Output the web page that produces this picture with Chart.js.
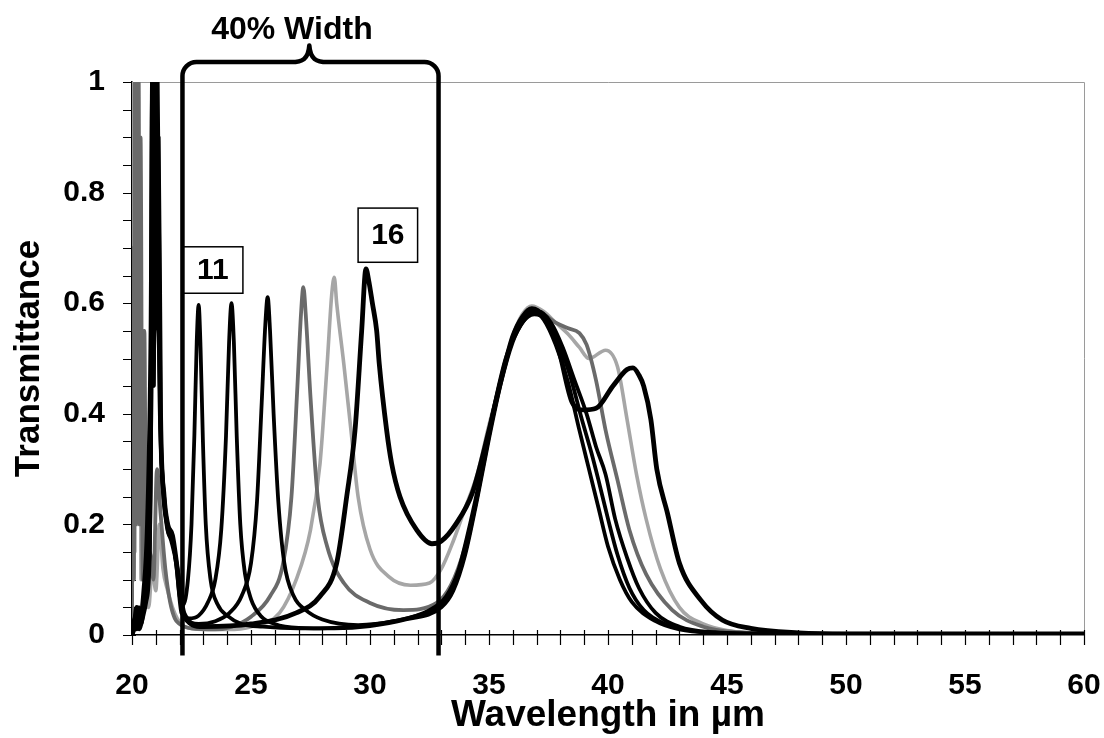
<!DOCTYPE html>
<html>
<head>
<meta charset="utf-8">
<script src="https://cdn.jsdelivr.net/npm/chart.js@4/dist/chart.umd.min.js"></script>
<style>
  html, body { margin: 0; padding: 0; background: #fff; }
  #wrap { width: 1104px; height: 738px; }
</style>
</head>
<body>
<div id="wrap"><canvas id="c" width="1104" height="738"></canvas></div>
<script>
// ---------------- DATA ----------------
const seriesNames = ['11', '12', '13', '16', '14', '15'];

const wl11 = [20.0, 20.1, 20.2, 20.3, 20.4, 20.55, 20.7, 20.8, 20.86, 20.92, 20.97, 21.02, 21.1, 21.25, 21.45, 21.65, 21.85, 22.0, 22.15, 22.35, 22.5, 22.62, 22.72, 22.8, 22.88, 22.98, 23.1, 23.3, 23.6, 24.0, 24.6, 25.5, 27, 28.5, 30, 31, 32, 33, 33.5, 34, 34.5, 35, 35.5, 36, 36.4, 36.9, 37.3, 37.8, 38.3, 38.8, 39.2, 39.6, 40.0, 40.5, 41, 42, 43, 44.5, 46, 50, 60];
const t11  = [0.0, 0.03, 0.01, 0.05, 0.02, 0.08, 0.12, 0.35, 1.0, 0.45, 1.0, 0.6, 0.55, 0.3, 0.2, 0.17, 0.13, 0.07, 0.055, 0.1, 0.2, 0.36, 0.53, 0.597, 0.52, 0.35, 0.2, 0.1, 0.055, 0.035, 0.02, 0.015, 0.012, 0.013, 0.018, 0.025, 0.035, 0.055, 0.085, 0.15, 0.25, 0.36, 0.46, 0.535, 0.57, 0.585, 0.57, 0.525, 0.46, 0.37, 0.3, 0.23, 0.16, 0.1, 0.06, 0.025, 0.01, 0.004, 0.003, 0.002, 0.002];

const wl12 = [20.0, 20.1, 20.2, 20.3, 20.45, 20.6, 20.75, 20.85, 20.92, 20.98, 21.05, 21.15, 21.3, 21.5, 21.7, 21.9, 22.1, 22.4, 22.8, 23.2, 23.5, 23.75, 23.95, 24.08, 24.18, 24.28, 24.4, 24.55, 24.75, 25.0, 25.4, 26, 27, 28.5, 30, 31.5, 33, 33.5, 34, 34.5, 35, 35.5, 36, 36.4, 36.9, 37.4, 37.9, 38.4, 38.9, 39.3, 39.6, 40.0, 40.4, 40.9, 41.5, 42.5, 43.5, 45, 47, 60];
const t12  = [0.0, 0.02, 0.04, 0.01, 0.03, 0.06, 0.15, 0.6, 1.0, 0.6, 0.95, 0.45, 0.28, 0.19, 0.17, 0.12, 0.05, 0.03, 0.035, 0.06, 0.1, 0.19, 0.36, 0.53, 0.6, 0.53, 0.36, 0.2, 0.11, 0.065, 0.035, 0.02, 0.013, 0.012, 0.016, 0.028, 0.05, 0.08, 0.145, 0.245, 0.355, 0.455, 0.53, 0.565, 0.58, 0.57, 0.53, 0.47, 0.39, 0.33, 0.28, 0.21, 0.145, 0.085, 0.045, 0.018, 0.008, 0.003, 0.002, 0.002];

const wl13 = [20.0, 20.1, 20.2, 20.35, 20.5, 20.65, 20.78, 20.84, 20.9, 20.96, 21.02, 21.08, 21.2, 21.35, 21.55, 21.75, 21.95, 22.2, 22.8, 23.5, 24.1, 24.6, 25.0, 25.25, 25.45, 25.6, 25.7, 25.8, 25.95, 26.15, 26.4, 26.8, 27.3, 28, 29.5, 31, 32.5, 33.2, 33.7, 34.2, 34.7, 35.2, 35.7, 36.2, 36.7, 37.1, 37.6, 38.1, 38.6, 39.1, 39.5, 39.9, 40.3, 40.8, 41.3, 42, 43, 44.5, 47, 60];
const t13  = [0.0, 0.01, 0.03, 0.02, 0.05, 0.1, 0.3, 1.0, 0.5, 1.0, 0.7, 1.0, 0.4, 0.25, 0.19, 0.16, 0.11, 0.04, 0.02, 0.025, 0.04, 0.07, 0.13, 0.24, 0.42, 0.56, 0.611, 0.55, 0.4, 0.24, 0.13, 0.07, 0.045, 0.028, 0.018, 0.025, 0.045, 0.07, 0.115, 0.2, 0.3, 0.41, 0.5, 0.55, 0.58, 0.585, 0.565, 0.52, 0.46, 0.4, 0.34, 0.29, 0.21, 0.14, 0.085, 0.04, 0.015, 0.005, 0.002, 0.002];

const wl14 = [20.0, 20.04, 20.08, 20.12, 20.16, 20.2, 20.24, 20.28, 20.32, 20.36, 20.45, 20.52, 20.6, 20.75, 20.9, 21.05, 21.2, 21.4, 21.6, 21.8, 22.0, 22.5, 23.5, 24.2, 25.0, 25.8, 26.35, 26.7, 26.95, 27.1, 27.2, 27.3, 27.5, 27.8, 28.2, 28.9, 30.0, 31.4, 32.8, 33.4, 34, 34.5, 35, 35.5, 36, 36.4, 36.8, 37.3, 37.8, 38.3, 38.8, 39.1, 39.5, 39.9, 40.4, 40.9, 41.6, 42.7, 44, 45.5, 48, 60];
const t14  = [0.0, 0.7, 0.1, 1.0, 0.2, 1.0, 0.3, 1.0, 0.2, 0.9, 0.1, 0.55, 0.08, 0.15, 0.1, 0.3, 0.22, 0.12, 0.06, 0.03, 0.02, 0.012, 0.01, 0.015, 0.033, 0.07, 0.13, 0.25, 0.45, 0.58, 0.629, 0.58, 0.43, 0.25, 0.16, 0.094, 0.058, 0.045, 0.058, 0.09, 0.16, 0.25, 0.37, 0.46, 0.54, 0.575, 0.59, 0.58, 0.565, 0.555, 0.546, 0.525, 0.46, 0.37, 0.28, 0.19, 0.11, 0.045, 0.015, 0.005, 0.002, 0.002];

const wl15 = [20.0, 20.03, 20.06, 20.09, 20.12, 20.15, 20.18, 20.21, 20.24, 20.27, 20.3, 20.33, 20.38, 20.45, 20.5, 20.56, 20.7, 20.85, 21.0, 21.15, 21.3, 21.5, 21.7, 21.9, 22.2, 23, 24, 25, 26.2, 26.9, 27.5, 27.9, 28.2, 28.4, 28.5, 28.6, 28.9, 29.2, 29.5, 30.0, 30.8, 31.7, 32.5, 33, 33.5, 34, 34.5, 35, 35.5, 36, 36.4, 36.8, 37.3, 37.8, 38.3, 38.8, 39.2, 39.9, 40.4, 40.8, 41.2, 41.6, 42.2, 43.0, 44, 45, 47, 60];
const t15  = [0.0, 1.0, 0.2, 1.0, 0.15, 1.0, 0.3, 1.0, 0.2, 1.0, 0.25, 0.85, 0.1, 0.3, 0.55, 0.1, 0.05, 0.12, 0.08, 0.2, 0.12, 0.08, 0.05, 0.03, 0.015, 0.01, 0.01, 0.015, 0.04, 0.1, 0.19, 0.31, 0.49, 0.62, 0.647, 0.6, 0.49, 0.37, 0.25, 0.155, 0.105, 0.09, 0.094, 0.12, 0.17, 0.23, 0.29, 0.38, 0.46, 0.54, 0.58, 0.595, 0.585, 0.565, 0.545, 0.52, 0.50, 0.515, 0.485, 0.39, 0.29, 0.21, 0.12, 0.05, 0.02, 0.008, 0.003, 0.002];

const wl16 = [20.0, 20.1, 20.2, 20.35, 20.5, 20.65, 20.8, 20.87, 20.93, 20.98, 21.03, 21.1, 21.2, 21.35, 21.5, 21.7, 21.9, 22.1, 23, 25, 26.9, 27.9, 28.6, 29.02, 29.37, 29.65, 29.83, 29.95, 30.1, 30.28, 30.39, 30.7, 30.91, 31.26, 31.96, 32.6, 33.0, 33.6, 34.3, 35, 35.5, 36, 36.4, 36.8, 37.3, 37.9, 38.5, 38.95, 39.5, 40.2, 40.8, 41.05, 41.3, 41.5, 41.8, 42.05, 42.5, 43.0, 43.9, 44.8, 46, 48, 50, 60];
const t16  = [0.0, 0.02, 0.05, 0.03, 0.08, 0.2, 0.55, 1.0, 0.6, 1.0, 0.75, 0.9, 0.4, 0.25, 0.2, 0.18, 0.12, 0.04, 0.015, 0.02, 0.04, 0.07, 0.13, 0.25, 0.37, 0.55, 0.662, 0.64, 0.6, 0.55, 0.49, 0.37, 0.31, 0.25, 0.19, 0.165, 0.17, 0.2, 0.257, 0.37, 0.46, 0.54, 0.575, 0.59, 0.575, 0.52, 0.42, 0.407, 0.41, 0.45, 0.48, 0.483, 0.47, 0.45, 0.39, 0.30, 0.22, 0.13, 0.063, 0.027, 0.012, 0.004, 0.002, 0.002];

const xTickLabels = ['20', '25', '30', '35', '40', '45', '50', '55', '60'];
const yTickLabels = ['0', '0.2', '0.4', '0.6', '0.8', '1'];

// ---------------- CHART ----------------
const FONT = "'Liberation Sans', Arial, sans-serif";

function pts(xs, ys) { return xs.map((v, i) => ({ x: v, y: ys[i] })); }

const seriesData = { '11': [wl11, t11], '12': [wl12, t12], '13': [wl13, t13], '14': [wl14, t14], '15': [wl15, t15], '16': [wl16, t16] };
const seriesStyle = {
  '11': { color: '#000000', width: 3.8 },
  '12': { color: '#000000', width: 3.8 },
  '13': { color: '#000000', width: 3.8 },
  '16': { color: '#000000', width: 4.8 },
  '14': { color: '#6a6a6a', width: 3.8 },
  '15': { color: '#a6a6a6', width: 3.6 }
};

const datasets = seriesNames.map(n => ({
  label: n,
  data: pts(seriesData[n][0], seriesData[n][1]),
  borderColor: seriesStyle[n].color,
  borderWidth: seriesStyle[n].width,
  pointRadius: 0,
  fill: false,
  cubicInterpolationMode: 'monotone',
  borderJoinStyle: 'round',
  borderCapStyle: 'round'
}));

// frame (top/right thin gray border) + crossing tick marks
const framePlugin = {
  id: 'frame',
  beforeDatasetsDraw(chart) {
    const { ctx, chartArea: a, scales: { x, y } } = chart;
    ctx.save();
    ctx.strokeStyle = '#9a9a9a';
    ctx.lineWidth = 1;
    ctx.beginPath();
    ctx.moveTo(a.left, a.top + 0.5); ctx.lineTo(a.right + 0.5, a.top + 0.5); ctx.lineTo(a.right + 0.5, a.bottom);
    ctx.stroke();
    ctx.strokeStyle = '#000';
    ctx.lineWidth = 1.2;
    ctx.beginPath();
    for (let v = 20; v <= 60; v++) {
      const px = Math.round(x.getPixelForValue(v)) + 0.5;
      ctx.moveTo(px, a.bottom - 5); ctx.lineTo(px, a.bottom + 10);
    }
    for (let k = 0; k <= 20; k++) {
      const py = Math.round(y.getPixelForValue(k * 0.05)) + 0.5;
      ctx.moveTo(a.left - 9, py); ctx.lineTo(a.left + 4, py);
    }
    ctx.stroke();
    ctx.restore();
  }
};

// bracket "40% Width" and the boxed labels 11 / 16
const BRACKET = { left: 22.12, right: 32.88, mid: 27.45, top: 1.036, tip: 1.066, bottom: -0.037 };
const BRACKET_TEXT = { x: 26.72, y: 1.094, text: '40% Width' };
const BOXES = [
  { text: '11', x0: 22.14, x1: 24.66, y0: 0.618, y1: 0.702 },
  { text: '16', x0: 29.5, x1: 32.0, y0: 0.674, y1: 0.772 }
];

const annotPlugin = {
  id: 'annot',
  afterDatasetsDraw(chart) {
    const { ctx, scales: { x, y } } = chart;
    ctx.save();
    BOXES.forEach(b => {
      const l = x.getPixelForValue(b.x0), r = x.getPixelForValue(b.x1);
      const t = y.getPixelForValue(b.y1), bt = y.getPixelForValue(b.y0);
      ctx.fillStyle = '#fff';
      ctx.fillRect(l, t, r - l, bt - t);
      ctx.strokeStyle = '#000';
      ctx.lineWidth = 1.5;
      ctx.strokeRect(l, t, r - l, bt - t);
      ctx.fillStyle = '#000';
      ctx.font = 'bold 30px ' + FONT;
      ctx.textAlign = 'center';
      ctx.textBaseline = 'middle';
      ctx.fillText(b.text, (l + r) / 2, (t + bt) / 2 + 1);
    });
    const xl = x.getPixelForValue(BRACKET.left), xr = x.getPixelForValue(BRACKET.right);
    const xm = x.getPixelForValue(BRACKET.mid);
    const yt = y.getPixelForValue(BRACKET.top), yb = y.getPixelForValue(BRACKET.bottom);
    const ytip = y.getPixelForValue(BRACKET.tip);
    const r = 14;
    ctx.strokeStyle = '#000';
    ctx.lineWidth = 4.5;
    ctx.lineJoin = 'round';
    ctx.lineCap = 'butt';
    ctx.beginPath();
    ctx.moveTo(xl, yb);
    ctx.lineTo(xl, yt + r);
    ctx.arcTo(xl, yt, xl + r, yt, r);
    ctx.lineTo(xm - 18, yt);
    ctx.bezierCurveTo(xm - 7, yt, xm - 1, yt - 3, xm, ytip);
    ctx.bezierCurveTo(xm + 1, yt - 3, xm + 7, yt, xm + 18, yt);
    ctx.lineTo(xr - r, yt);
    ctx.arcTo(xr, yt, xr, yt + r, r);
    ctx.lineTo(xr, yb);
    ctx.stroke();
    ctx.fillStyle = '#000';
    ctx.font = 'bold 32px ' + FONT;
    ctx.textAlign = 'center';
    ctx.textBaseline = 'middle';
    ctx.fillText(BRACKET_TEXT.text, x.getPixelForValue(BRACKET_TEXT.x), y.getPixelForValue(BRACKET_TEXT.y));
    ctx.restore();
  }
};

new Chart(document.getElementById('c'), {
  type: 'line',
  data: { datasets },
  options: {
    responsive: false,
    animation: false,
    devicePixelRatio: 1,
    layout: { padding: { top: 82, right: 20, left: 0, bottom: 0 } },
    plugins: { legend: { display: false }, tooltip: { enabled: false }, title: { display: false } },
    scales: {
      x: {
        type: 'linear', min: 20, max: 60,
        afterFit(s) { s.height = 103; },
        grid: { display: false, drawTicks: true, tickLength: 33 },
        border: { display: true, color: '#000', width: 1.5 },
        ticks: {
          stepSize: 5, autoSkip: false, maxRotation: 0, padding: 0,
          color: '#000', font: { family: FONT, size: 30, weight: 'bold' },
          callback: (v) => { const i = Math.round((v - 20) / 5); return xTickLabels[i] !== undefined ? xTickLabels[i] : ''; }
        },
        title: { display: true, text: 'Wavelength in µm', color: '#000', font: { family: FONT, size: 37, weight: 'bold' }, padding: { top: 0, bottom: 0 } }
      },
      y: {
        type: 'linear', min: 0, max: 1,
        afterFit(s) { s.width = 132; },
        grid: { display: false, drawTicks: true, tickLength: 27 },
        border: { display: true, color: '#000', width: 1.5 },
        ticks: {
          stepSize: 0.2, padding: 0,
          color: '#000', font: { family: FONT, size: 30, weight: 'bold' },
          callback: (v) => { const i = Math.round(v / 0.2); return yTickLabels[i] !== undefined ? yTickLabels[i] : ''; }
        },
        title: { display: true, text: 'Transmittance', color: '#000', font: { family: FONT, size: 35, weight: 'bold' }, padding: { top: 8, bottom: 0 } }
      }
    }
  },
  plugins: [framePlugin, annotPlugin]
});
</script>
</body>
</html>
